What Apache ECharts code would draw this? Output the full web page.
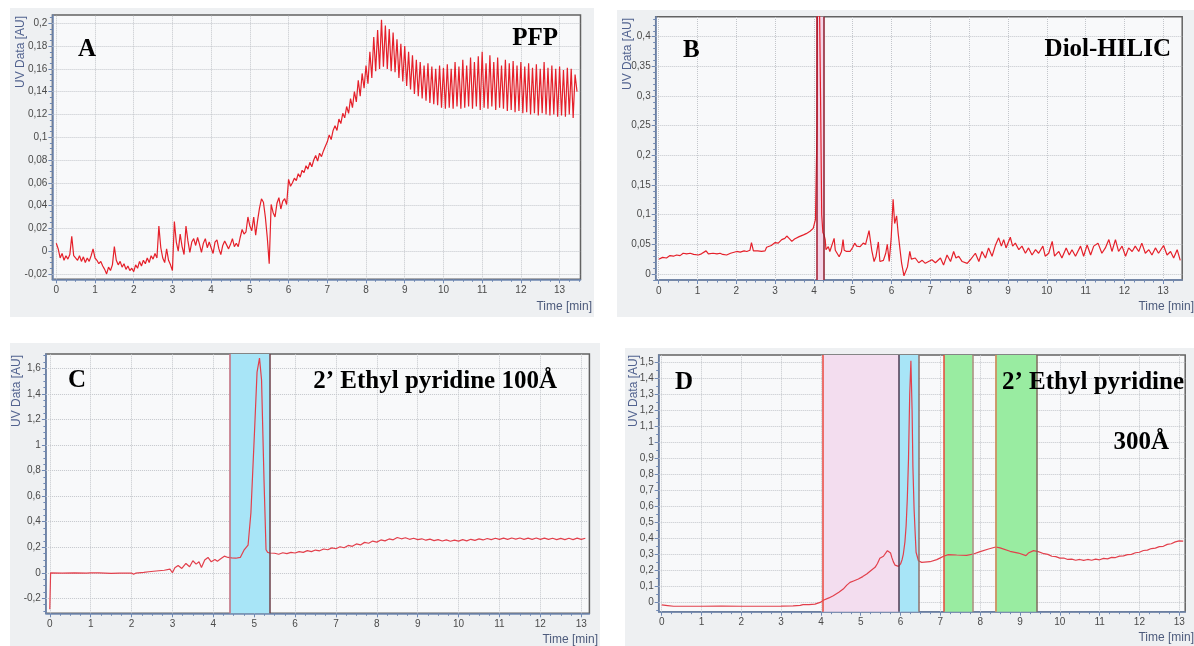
<!DOCTYPE html>
<html>
<head>
<meta charset="utf-8">
<title>UV chromatograms</title>
<script src="https://cdn.jsdelivr.net/npm/echarts@6/dist/echarts.min.js"></script>
<style>
  html, body { margin: 0; padding: 0; background: #fff; }
  #chart { width: 1194px; height: 646px; }
</style>
</head>
<body>
<div id="chart"></div>
<script>
// ---- data (time in min, UV in AU) ----

// A: PFP, sampled every 0.05 min from 0
const aStart = 0
const aStep = 0.05
const aValues = [
  0.007, 0.002, -0.006, -0.002, -0.008, -0.004, -0.007, -0.003, 0.013, -0.004, -0.005, -0.008, -0.004, -0.009, -0.005, -0.010, -0.006, -0.009, -0.004, 0.002,
  -0.006, -0.008, -0.011, -0.009, -0.013, -0.016, -0.020, -0.014, -0.017, -0.012, 0.004, -0.008, -0.012, -0.009, -0.014, -0.011, -0.016, -0.013, -0.017, -0.015,
  -0.018, -0.012, -0.015, -0.009, -0.013, -0.008, -0.011, -0.006, -0.010, -0.004, -0.007, -0.002, -0.006, 0.022, 0.003, -0.006, -0.010, 0.002, -0.008, -0.012,
  -0.017, 0.026, 0.008, 0.000, 0.015, 0.004, -0.003, 0.022, 0.009, -0.001, 0.008, 0.011, 0.005, 0.012, 0.006, -0.001, 0.007, 0.011, 0.003, 0.008,
  0.003, -0.002, 0.008, 0.010, 0.002, -0.003, 0.005, 0.009, 0.010, 0.002, 0.006, 0.011, 0.004, 0.007, 0.004, 0.012, 0.019, 0.015, 0.017, 0.030,
  0.022, 0.018, 0.030, 0.014, 0.027, 0.038, 0.046, 0.043, 0.030, 0.012, -0.011, 0.041, 0.034, 0.030, 0.042, 0.047, 0.037, 0.044, 0.046, 0.041,
  0.063, 0.057, 0.060, 0.064, 0.062, 0.068, 0.065, 0.071, 0.069, 0.075, 0.072, 0.078, 0.074, 0.080, 0.084, 0.079, 0.086, 0.083, 0.088, 0.092,
  0.096, 0.102, 0.098, 0.106, 0.110, 0.106, 0.116, 0.112, 0.121, 0.117, 0.127, 0.121, 0.134, 0.126, 0.140, 0.131, 0.150, 0.136, 0.156, 0.143,
  0.163, 0.147, 0.175, 0.152, 0.188, 0.158, 0.194, 0.160, 0.203, 0.162, 0.198, 0.160, 0.195, 0.158, 0.192, 0.157, 0.186, 0.152, 0.182, 0.149,
  0.180, 0.145, 0.175, 0.142, 0.172, 0.138, 0.168, 0.136, 0.166, 0.134, 0.163, 0.132, 0.165, 0.130, 0.162, 0.129, 0.160, 0.128, 0.163, 0.126,
  0.161, 0.125, 0.164, 0.126, 0.160, 0.125, 0.166, 0.127, 0.162, 0.125, 0.168, 0.126, 0.163, 0.127, 0.170, 0.125, 0.166, 0.127, 0.171, 0.124,
  0.175, 0.126, 0.165, 0.125, 0.172, 0.127, 0.166, 0.124, 0.170, 0.126, 0.163, 0.125, 0.168, 0.123, 0.165, 0.124, 0.167, 0.122, 0.163, 0.123,
  0.166, 0.121, 0.162, 0.122, 0.165, 0.120, 0.161, 0.121, 0.164, 0.119, 0.160, 0.121, 0.166, 0.120, 0.161, 0.119, 0.163, 0.120, 0.160, 0.118,
  0.162, 0.119, 0.159, 0.118, 0.161, 0.120, 0.160, 0.117, 0.155, 0.140
]

// B: Diol-HILIC, [time, value]
const bPoints = [
  [0, 0.025], [0.1, 0.028], [0.2, 0.027], [0.29, 0.031], [0.38, 0.030], [0.46, 0.032], [0.55, 0.031], [0.63, 0.035],
  [0.72, 0.034], [0.81, 0.035], [0.9, 0.033], [1.02, 0.032], [1.1, 0.034], [1.22, 0.039], [1.28, 0.034], [1.4, 0.035],
  [1.5, 0.034], [1.58, 0.035], [1.65, 0.033], [1.75, 0.032], [1.85, 0.035], [2.01, 0.038], [2.1, 0.037], [2.2, 0.039],
  [2.27, 0.038], [2.35, 0.040], [2.39, 0.053], [2.44, 0.039], [2.55, 0.039], [2.65, 0.038], [2.74, 0.039], [2.78, 0.045],
  [2.9, 0.048], [3.0, 0.053], [3.08, 0.052], [3.17, 0.058], [3.25, 0.060], [3.3, 0.064], [3.36, 0.060], [3.43, 0.055],
  [3.5, 0.059], [3.55, 0.061], [3.62, 0.063], [3.73, 0.066], [3.8, 0.068], [3.9, 0.072], [3.98, 0.077], [4.04, 0.092],
  [4.08, 0.25], [4.1, 0.7], [4.14, 0.7], [4.17, 0.3], [4.2, 0.1], [4.23, 0.07], [4.26, 0.066], [4.29, 0.058],
  [4.31, 0.041], [4.37, 0.046], [4.41, 0.038], [4.46, 0.036], [4.52, 0.060], [4.55, 0.040], [4.58, 0.037], [4.65, 0.029],
  [4.71, 0.038], [4.75, 0.058], [4.78, 0.040], [4.84, 0.038], [4.93, 0.038], [5.0, 0.045], [5.05, 0.052], [5.1, 0.047],
  [5.19, 0.046], [5.27, 0.052], [5.33, 0.050], [5.42, 0.073], [5.49, 0.040], [5.55, 0.021], [5.6, 0.030], [5.66, 0.054],
  [5.7, 0.021], [5.79, 0.023], [5.85, 0.035], [5.89, 0.050], [5.94, 0.021], [5.99, 0.060], [6.04, 0.126], [6.08, 0.085],
  [6.13, 0.098], [6.17, 0.069], [6.22, 0.040], [6.26, 0.018], [6.32, -0.003], [6.41, 0.012], [6.47, 0.038], [6.51, 0.025],
  [6.56, 0.023], [6.61, 0.027], [6.7, 0.019], [6.79, 0.023], [6.87, 0.018], [7.04, 0.024], [7.13, 0.019], [7.26, 0.027],
  [7.34, 0.015], [7.43, 0.032], [7.52, 0.021], [7.6, 0.038], [7.66, 0.027], [7.73, 0.030], [7.82, 0.021], [7.95, 0.018],
  [8.03, 0.024], [8.16, 0.035], [8.25, 0.021], [8.33, 0.038], [8.42, 0.027], [8.5, 0.044], [8.59, 0.030], [8.68, 0.049],
  [8.76, 0.061], [8.83, 0.047], [8.89, 0.058], [8.95, 0.044], [9.06, 0.062], [9.12, 0.047], [9.19, 0.052], [9.28, 0.041],
  [9.36, 0.047], [9.45, 0.035], [9.53, 0.044], [9.62, 0.032], [9.71, 0.041], [9.79, 0.035], [9.9, 0.047], [9.96, 0.030],
  [10.05, 0.035], [10.14, 0.055], [10.2, 0.030], [10.31, 0.038], [10.39, 0.027], [10.5, 0.044], [10.58, 0.032], [10.65, 0.041],
  [10.74, 0.030], [10.87, 0.047], [10.95, 0.030], [11.04, 0.049], [11.13, 0.032], [11.21, 0.047], [11.32, 0.052], [11.42, 0.035],
  [11.51, 0.044], [11.6, 0.058], [11.68, 0.038], [11.77, 0.058], [11.85, 0.038], [11.94, 0.047], [12.03, 0.030], [12.11, 0.044],
  [12.2, 0.038], [12.28, 0.047], [12.37, 0.038], [12.45, 0.052], [12.54, 0.035], [12.63, 0.041], [12.71, 0.032], [12.8, 0.044],
  [12.88, 0.035], [13.01, 0.048], [13.1, 0.032], [13.19, 0.038], [13.27, 0.027], [13.36, 0.041], [13.44, 0.023]
]

// C: 2' ethyl pyridine 100 A
const cPoints = [
  [0, -0.286], [0.02, 0], [0.3, -0.002], [0.6, 0.0], [0.9, -0.003], [1.0, 0.0], [1.2, 0.0], [1.5, -0.005],
  [1.7, -0.002], [2.0, -0.002], [2.05, -0.012], [2.1, -0.003], [2.3, 0.003], [2.42, 0.008], [2.6, 0.014], [2.8, 0.02],
  [2.94, 0.029], [3.0, 0.0], [3.06, 0.039], [3.14, 0.057], [3.23, 0.034], [3.33, 0.073], [3.42, 0.047], [3.5, 0.094],
  [3.58, 0.068], [3.65, 0.086], [3.71, 0.042], [3.79, 0.1], [3.87, 0.12], [3.95, 0.086], [4.04, 0.104], [4.1, 0.091],
  [4.19, 0.112], [4.27, 0.13], [4.36, 0.12], [4.45, 0.117], [4.55, 0.114], [4.66, 0.12], [4.75, 0.177], [4.85, 0.216],
  [4.92, 0.47], [5.01, 1.12], [5.07, 1.57], [5.13, 1.68], [5.18, 1.51], [5.24, 0.73], [5.29, 0.18], [5.33, 0.16],
  [5.38, 0.155], [5.4, 0.146], [5.5, 0.153], [5.6, 0.145], [5.7, 0.157], [5.8, 0.150], [5.9, 0.160], [6.0, 0.155],
  [6.1, 0.166], [6.2, 0.160], [6.3, 0.173], [6.4, 0.166], [6.5, 0.178], [6.6, 0.172], [6.7, 0.186], [6.8, 0.180],
  [6.9, 0.195], [7.0, 0.188], [7.1, 0.204], [7.2, 0.196], [7.3, 0.214], [7.4, 0.207], [7.5, 0.226], [7.6, 0.218],
  [7.7, 0.238], [7.8, 0.231], [7.9, 0.248], [8.0, 0.240], [8.1, 0.257], [8.2, 0.250], [8.3, 0.265], [8.4, 0.258],
  [8.5, 0.276], [8.6, 0.266], [8.7, 0.274], [8.8, 0.262], [8.9, 0.270], [9.0, 0.259], [9.1, 0.266], [9.2, 0.255],
  [9.3, 0.263], [9.4, 0.252], [9.5, 0.260], [9.6, 0.249], [9.7, 0.258], [9.8, 0.247], [9.9, 0.256], [10.0, 0.248],
  [10.1, 0.259], [10.2, 0.250], [10.3, 0.262], [10.4, 0.254], [10.5, 0.265], [10.6, 0.257], [10.7, 0.268], [10.8, 0.259],
  [10.9, 0.270], [11.0, 0.261], [11.1, 0.271], [11.2, 0.262], [11.3, 0.272], [11.4, 0.263], [11.5, 0.272], [11.6, 0.262],
  [11.7, 0.271], [11.8, 0.262], [11.9, 0.272], [12.0, 0.262], [12.1, 0.271], [12.2, 0.261], [12.3, 0.270], [12.4, 0.260],
  [12.5, 0.269], [12.6, 0.259], [12.7, 0.270], [12.8, 0.260], [12.9, 0.271], [13.0, 0.262], [13.1, 0.270]
]

// D: 2' ethyl pyridine 300 A
const dPoints = [
  [0, -0.014], [0.15, -0.018], [0.3, -0.022], [0.6, -0.022], [1.0, -0.022], [1.5, -0.021], [2.0, -0.022], [2.5, -0.022],
  [3.0, -0.021], [3.3, -0.020], [3.48, -0.016], [3.55, -0.012], [3.7, -0.012], [3.85, -0.009], [3.98, 0.002], [4.06, 0.015],
  [4.2, 0.030], [4.31, 0.044], [4.45, 0.066], [4.56, 0.085], [4.65, 0.110], [4.73, 0.127], [4.82, 0.136], [4.94, 0.148],
  [5.05, 0.163], [5.15, 0.179], [5.25, 0.200], [5.36, 0.221], [5.42, 0.245], [5.48, 0.277], [5.52, 0.285], [5.57, 0.290],
  [5.61, 0.288], [5.67, 0.325], [5.72, 0.331], [5.75, 0.310], [5.78, 0.283], [5.82, 0.255], [5.86, 0.235], [5.95, 0.227],
  [6.0, 0.242], [6.04, 0.270], [6.07, 0.304], [6.11, 0.380], [6.14, 0.480], [6.17, 0.650], [6.2, 0.900], [6.23, 1.300],
  [6.26, 1.510], [6.29, 1.200], [6.31, 0.850], [6.34, 0.585], [6.37, 0.420], [6.39, 0.315], [6.45, 0.262], [6.53, 0.252],
  [6.74, 0.256], [6.91, 0.269], [7.0, 0.280], [7.08, 0.290], [7.2, 0.300], [7.41, 0.298], [7.66, 0.296], [7.83, 0.304],
  [8.0, 0.319], [8.21, 0.335], [8.39, 0.348], [8.5, 0.342], [8.75, 0.321], [8.96, 0.310], [9.15, 0.294], [9.21, 0.310],
  [9.34, 0.325], [9.46, 0.319], [9.5, 0.314], [9.6, 0.306], [9.7, 0.302], [9.8, 0.290], [9.9, 0.288], [10.0, 0.278],
  [10.1, 0.279], [10.2, 0.270], [10.3, 0.272], [10.4, 0.265], [10.5, 0.270], [10.6, 0.264], [10.7, 0.270], [10.8, 0.265],
  [10.9, 0.272], [11.0, 0.268], [11.1, 0.277], [11.2, 0.274], [11.3, 0.283], [11.4, 0.282], [11.5, 0.291], [11.6, 0.292],
  [11.7, 0.300], [11.8, 0.302], [11.9, 0.312], [12.0, 0.315], [12.1, 0.326], [12.2, 0.328], [12.3, 0.338], [12.4, 0.341],
  [12.5, 0.350], [12.6, 0.352], [12.7, 0.364], [12.8, 0.368], [12.9, 0.380], [13.0, 0.386], [13.05, 0.395], [13.1, 0.385]
]

// integration windows [from, to] in min
const bBands = [[4.07, 4.265]]
const cBands = [[4.40, 5.38]]
const dBands = [[4.04, 5.96], [5.96, 6.46], [7.09, 7.81], [8.38, 9.42]]

// tick labels
const timeTicks = [0, 1, 2, 3, 4, 5, 6, 7, 8, 9, 10, 11, 12, 13]
const aYTicks = [-0.02, 0, 0.02, 0.04, 0.06, 0.08, 0.1, 0.12, 0.14, 0.16, 0.18, 0.2]
const bYTicks = [0, 0.05, 0.1, 0.15, 0.2, 0.25, 0.3, 0.35, 0.4]
const cYTicks = [-0.2, 0, 0.2, 0.4, 0.6, 0.8, 1, 1.2, 1.4, 1.6]
const dYTicks = [0, 0.1, 0.2, 0.3, 0.4, 0.5, 0.6, 0.7, 0.8, 0.9, 1, 1.1, 1.2, 1.3, 1.4, 1.5]

const aPoints = aValues.map((v, i) => [+(aStart + i * aStep).toFixed(2), v])

// ---- layout / styling ----
const axisBlue = '#6f88b3'
const gridGrey = '#c3c6cb'
const labelFont = "'Liberation Sans Narrow', 'Liberation Sans', sans-serif"
const bigFont = "bold 25px 'Liberation Serif', 'Times New Roman', serif"

const panels = [
  {
    grid: { left: 52.4, top: 15, width: 528.1, height: 264.3 },
    x: [-0.1, 13.54], y: [-0.0247, 0.2073], yTicks: aYTicks, yMinor: 0.005,
    data: aPoints, color: '#e5202a', bands: [], borders: []
  },
  {
    grid: { left: 655.7, top: 16.7, width: 526.5, height: 263.3 },
    x: [-0.078, 13.49], y: [-0.0101, 0.4337], yTicks: bYTicks, yMinor: 0.01,
    data: bPoints, color: '#e5202a',
    bands: bBands.map(b => ({ b: b, color: '#f4d6e8' })),
    borders: [{ at: bBands[0][0], color: '#a3192d' }, { at: bBands[0][1], color: '#8e1d2c' }]
  },
  {
    grid: { left: 45.9, top: 354, width: 543.5, height: 259.3 },
    x: [-0.095, 13.2], y: [-0.317, 1.712], yTicks: cYTicks, yMinor: 0.05,
    data: cPoints, color: '#e2404c',
    bands: cBands.map(b => ({ b: b, color: '#a8e5f7' })),
    borders: [{ at: cBands[0][0], color: '#c86a7a' }, { at: cBands[0][1], color: '#6e3f48' }]
  },
  {
    grid: { left: 658.7, top: 355, width: 526.5, height: 256.7 },
    x: [-0.075, 13.15], y: [-0.056, 1.546], yTicks: dYTicks, yMinor: 0.05,
    data: dPoints, color: '#e2404c',
    bands: [
      { b: dBands[0], color: '#f3ddef' },
      { b: dBands[1], color: '#a8e5f7' },
      { b: dBands[2], color: '#99eca1' },
      { b: dBands[3], color: '#99eca1' }
    ],
    borders: [
      { at: dBands[0][0], color: '#e8473f' },
      { at: dBands[1][0], color: '#4e3b52' },
      { at: dBands[1][1], color: '#8c6f6a' },
      { at: dBands[2][0], color: '#e64a3a' },
      { at: dBands[2][1], color: '#a48a78' },
      { at: dBands[3][0], color: '#d97f55' },
      { at: dBands[3][1], color: '#7a6a58' }
    ]
  }
]

function minorValues(min, max, step) {
  const out = []
  for (let k = Math.ceil(min / step - 1e-9); k * step <= max + 1e-9; k++) {
    out.push(+(k * step).toFixed(4))
  }
  return out
}
const fmt = v => String(v).replace('.', ',')

const grids = [], xAxes = [], yAxes = [], series = []
panels.forEach((p, i) => {
  grids.push(Object.assign({
    show: true, backgroundColor: '#f8f9fa', borderColor: '#626262', borderWidth: 1.5,
    containLabel: false, outerBoundsMode: 'none'
  }, p.grid))

  const labelStyle = { color: '#4a4a4a', fontSize: 10, fontFamily: labelFont }
  xAxes.push({
    type: 'value', gridIndex: i, min: p.x[0], max: p.x[1], position: 'bottom',
    axisLine: { onZero: false, lineStyle: { color: axisBlue, width: 1.5 } },
    axisTick: { customValues: timeTicks, length: 4, lineStyle: { color: axisBlue } },
    axisLabel: Object.assign({ customValues: timeTicks, formatter: fmt, margin: 6 }, labelStyle),
    splitLine: { show: false }
  })
  xAxes.push({
    type: 'value', gridIndex: i, min: p.x[0], max: p.x[1], position: 'bottom',
    axisLine: { show: false, onZero: false },
    axisTick: { customValues: minorValues(p.x[0], p.x[1], 0.25), length: 2.5, lineStyle: { color: axisBlue } },
    axisLabel: { show: false }, splitLine: { show: false }
  })
  yAxes.push({
    type: 'value', gridIndex: i, min: p.y[0], max: p.y[1], position: 'left',
    axisLine: { onZero: false, lineStyle: { color: axisBlue, width: 1.5 } },
    axisTick: { customValues: p.yTicks, length: 4, lineStyle: { color: axisBlue } },
    axisLabel: Object.assign({ customValues: p.yTicks, formatter: fmt, margin: 5 }, labelStyle),
    splitLine: { show: false }
  })
  yAxes.push({
    type: 'value', gridIndex: i, min: p.y[0], max: p.y[1], position: 'left',
    axisLine: { show: false, onZero: false },
    axisTick: { customValues: minorValues(p.y[0], p.y[1], p.yMinor), length: 2.5, lineStyle: { color: axisBlue } },
    axisLabel: { show: false }, splitLine: { show: false }
  })

  // dotted grid at the labelled ticks only
  series.push({
    type: 'line', xAxisIndex: 2 * i, yAxisIndex: 2 * i, data: [], silent: true, z: 1,
    markLine: {
      silent: true, z: 1, symbol: ['none', 'none'], label: { show: false },
      lineStyle: { type: 'dotted', color: gridGrey, width: 1 },
      data: timeTicks.map(t => ({ xAxis: t })).concat(p.yTicks.map(v => ({ yAxis: v })))
    }
  })

  series.push({
    type: 'line', xAxisIndex: 2 * i, yAxisIndex: 2 * i, z: 3,
    data: p.data, showSymbol: false, symbol: 'none', clip: true,
    lineStyle: { color: p.color, width: 1.2 },
    markArea: {
      silent: true, z: 2,
      data: p.bands.map(d => [{ xAxis: d.b[0], itemStyle: { color: d.color, opacity: 1 } }, { xAxis: d.b[1] }])
    },
    markLine: {
      silent: true, z: 4, symbol: ['none', 'none'], label: { show: false },
      lineStyle: { type: 'solid', width: 1.5 },
      data: p.borders.map(d => ({ xAxis: d.at, lineStyle: { color: d.color, type: 'solid', width: 1.5 } }))
    }
  })
})

// panel backgrounds and captions
const boxes = [[10, 8, 584, 309], [617, 10, 577, 307], [10, 343, 590, 303], [625, 348, 569, 298]]
const uvLabels = [[21, 88], [627.5, 90], [17, 427], [634, 427]]
const timeLabels = [[592, 307], [1194, 307], [598, 640], [1194, 638]]
const captions = [
  ['A', 78, 50, 'left'], ['PFP', 558, 39, 'right'],
  ['B', 683, 51, 'left'], ['Diol-HILIC', 1171, 50, 'right'],
  ['C', 68, 381, 'left'], ['2\u2019 Ethyl pyridine 100\u00c5', 557, 382, 'right'],
  ['D', 675, 383, 'left'], ['2\u2019 Ethyl pyridine', 1184, 383, 'right'], ['300\u00c5', 1169, 443, 'right']
]

const graphic = []
boxes.forEach(b => graphic.push({
  type: 'rect', z: -100, silent: true,
  shape: { x: b[0], y: b[1], width: b[2], height: b[3] },
  style: { fill: '#eef0f2' }
}))
uvLabels.forEach(l => graphic.push({
  type: 'text', x: l[0], y: l[1], rotation: Math.PI / 2, z: 100, silent: true,
  style: { text: 'UV Data [AU]', fill: '#51628f', font: "12px 'Liberation Sans', sans-serif", align: 'left', verticalAlign: 'middle' }
}))
timeLabels.forEach(l => graphic.push({
  type: 'text', x: l[0], y: l[1], z: 100, silent: true,
  style: { text: 'Time [min]', fill: '#4d5b7c', font: "12px " + labelFont, align: 'right', verticalAlign: 'middle' }
}))
captions.forEach(c => graphic.push({
  type: 'text', x: c[1], y: c[2], z: 100, silent: true,
  style: { text: c[0], fill: '#000', font: bigFont, align: c[3], verticalAlign: 'middle' }
}))

const myChart = echarts.init(document.getElementById('chart'))
myChart.setOption({
  animation: false,
  backgroundColor: '#ffffff',
  grid: grids,
  xAxis: xAxes,
  yAxis: yAxes,
  series: series,
  graphic: graphic
})
</script>
</body>
</html>
